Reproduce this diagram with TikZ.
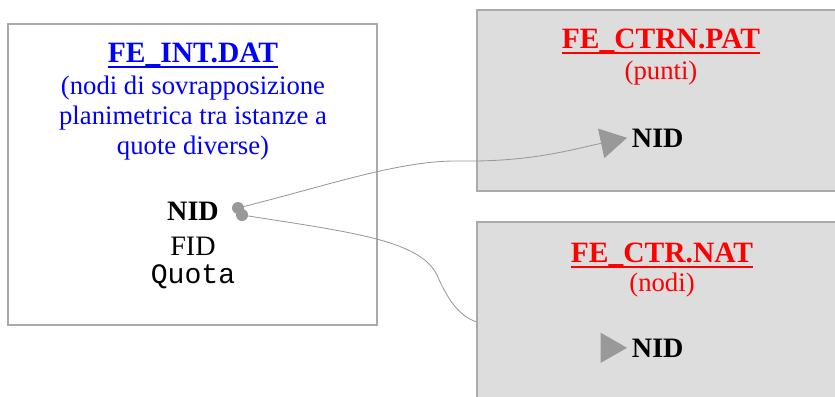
\documentclass[tikz,border=0pt]{standalone}
\usepackage{fontspec}
\setmainfont{Liberation Serif}
\setmonofont{Liberation Mono}
\usetikzlibrary{arrows.meta}
\pgfdeclarelayer{paper}
\pgfdeclarelayer{wires}
\pgfdeclarelayer{boxes}
\pgfsetlayers{paper,wires,boxes,main}
\definecolor{boxgray}{HTML}{DDDDDD}
\definecolor{framegray}{HTML}{AAAAAA}
\definecolor{wiregray}{HTML}{999999}
\definecolor{intblue}{HTML}{0000FF}
\definecolor{ctrred}{HTML}{FF0000}

\begin{document}
\begin{tikzpicture}[x=0.025cm,y=-0.025cm,
  txt/.style={font=\fontsize{19}{21.3}\selectfont,anchor=base},
  title/.style={font=\fontsize{21}{24}\selectfont\bfseries,anchor=base,inner sep=0pt},
  fld/.style={font=\fontsize{20}{23}\selectfont,anchor=base},
  wire/.style={draw=wiregray,line width=0.6pt},
  tip/.style={-{Triangle[length=0.66cm,width=0.75cm,fill=wiregray]}},
  dot/.style={circle,fill=wiregray,inner sep=0pt,minimum size=0.3cm}]
\useasboundingbox (0,0) rectangle (835,396);
\begin{pgfonlayer}{paper}
\draw[framegray,line width=0.9pt,fill=white] (8,24) rectangle (377,325);
\end{pgfonlayer}
\begin{pgfonlayer}{boxes}
\draw[framegray,line width=0.9pt,fill=boxgray] (477,10) rectangle (850,191);
\draw[framegray,line width=0.9pt,fill=boxgray] (477,222) rectangle (850,420);
\end{pgfonlayer}
\node[title,intblue] (intT) at (193,62) {FE\_INT.DAT};
\draw[intblue,line width=1.4pt] ([yshift=-3.5pt]intT.base west) -- ([yshift=-3.5pt]intT.base east);
\node[txt,intblue,align=center,anchor=north] (intD) at (193,71) {(nodi di sovrapposizione\\planimetrica tra istanze a\\quote diverse)};
\node[fld,font=\fontsize{20}{23}\selectfont\bfseries] (nidI) at (193,220) {NID};
\node[fld] (fidI) at (193,255) {FID};
\node[fld,font=\fontsize{20}{23}\selectfont\ttfamily] (quoI) at (193,283) {Quota};
\node[title,ctrred] (ctrnT) at (661,48) {FE\_CTRN.PAT};
\draw[ctrred,line width=1.4pt] ([yshift=-3.5pt]ctrnT.base west) -- ([yshift=-3.5pt]ctrnT.base east);
\node[txt,ctrred] (ctrnD) at (661,79) {(punti)};
\node[fld,font=\fontsize{20}{23}\selectfont\bfseries,anchor=base west] (nidA) at (627,147) {NID};
\node[title,ctrred] (ctrT) at (662,262) {FE\_CTR.NAT};
\draw[ctrred,line width=1.4pt] ([yshift=-3.5pt]ctrT.base west) -- ([yshift=-3.5pt]ctrT.base east);
\node[txt,ctrred] (ctrD) at (662,291) {(nodi)};
\node[fld,font=\fontsize{20}{23}\selectfont\bfseries,anchor=base west] (nidB) at (627,357) {NID};
\node[dot] (p1) at (238,208) {};
\node[dot] (p2) at (242,215) {};
\begin{pgfonlayer}{wires}
\draw[wire] (p2.center) .. controls (350,232) and (420,240) .. (437,275) .. controls (450,305) and (462,318) .. (480,323) .. controls (540,340) .. (nidB.west);
\end{pgfonlayer}
\draw[wire,tip] (p1.center) .. controls (330,185) and (400,160) .. (460,161) .. controls (530,162) and (570,150) .. (nidA.west);
\draw[wire,tip] ([xshift=-1pt]nidB.west) -- (nidB.west);
\end{tikzpicture}
\end{document}
